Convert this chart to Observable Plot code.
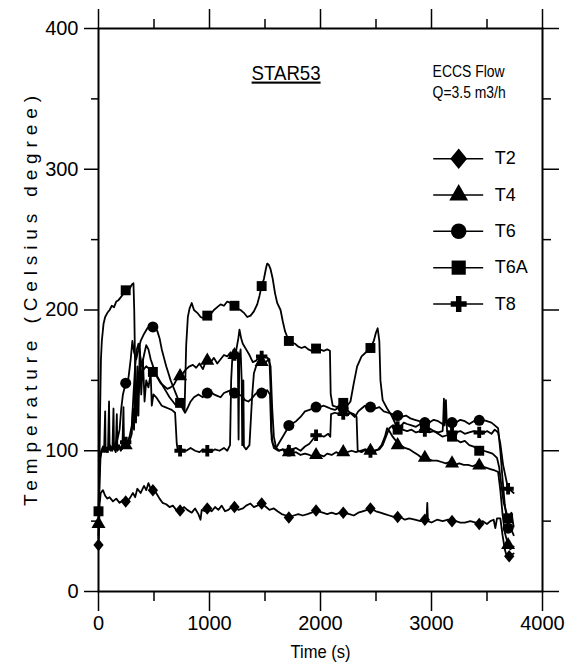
<!DOCTYPE html>
<html>
<head>
<meta charset="utf-8">
<script src="https://cdn.jsdelivr.net/npm/d3@7"></script>
<script src="https://cdn.jsdelivr.net/npm/@observablehq/plot@0.6"></script>
<style>
  body { margin: 0; background: #fff; }
  #chart svg { display: block; }
  .underlined text { text-decoration: underline; }
</style>
</head>
<body>
<div id="chart"></div>
<script>
// STAR53 run: ECCS flow Q = 3.5 m3/h, thermocouple temperatures vs time
const seriesNames = ["T2", "T4", "T6", "T6A", "T8"];

const xTicksMajor = [0, 1000, 2000, 3000, 4000];
const xTicksMinor = [500, 1500, 2500, 3500];
const yTicksMajor = [0, 100, 200, 300, 400];
const yTicksMinor = [50, 150, 250, 350];

// [time (s), temperature (°C)]
const T2 = [[0,30],[5,45],[10,62],[20,70],[40,72],[60,68],[80,66],[100,67],[130,64],[160,66],[190,63],[220,65],[280,66],[310,70],[330,67],[350,73],[380,70],[410,75],[430,72],[450,77],[470,73],[520,70],[550,66],[577,63],[610,62],[640,60],[670,61],[700,58],[770,60],[800,58],[840,56],[870,59],[900,55],[919,51],[930,58],[960,57],[1020,57],[1050,60],[1080,58],[1110,61],[1140,57],[1170,58],[1200,60],[1260,58],[1300,59],[1330,61],[1369,62.5],[1400,60],[1430,61],[1510,60],[1540,58],[1580,59],[1613,57],[1650,55],[1690,54],[1760,54],[1800,55],[1840,54],[1883,55],[1920,56],[2020,56],[2060,55],[2100,56],[2140,55],[2180,56],[2260,55],[2300,54],[2340,56],[2380,57],[2420,58],[2500,57],[2540,56],[2580,55],[2620,54],[2660,53],[2720,53],[2760,51],[2800,52],[2850,51],[2900,50],[2955,51],[2962,63],[2968,50],[3000,49],[3050,51],[3100,50],[3150,51],[3220,50],[3260,49],[3300,49],[3350,50],[3400,49],[3460,50],[3500,48],[3530,50],[3560,51],[3575,45],[3590,52],[3620,52],[3640,40],[3660,30],[3675,26],[3740,27]];
const T4 = [[0,48],[8,80],[15,95],[30,100],[50,101],[70,99],[90,102],[110,100],[130,101],[150,103],[170,100],[190,102],[210,101],[230,104],[260,106],[280,110],[300,118],[315,140],[330,160],[345,172],[360,176],[375,168],[390,160],[410,168],[430,175],[450,172],[470,165],[500,158],[530,152],[560,148],[590,146],[620,144],[650,145],[680,147],[700,150],[720,152],[760,155],[790,158],[820,160],[850,161],[880,159],[910,162],[940,158],[960,162],[1010,163],[1040,166],[1070,162],[1100,165],[1130,168],[1160,167],[1190,170],[1210,167],[1240,171],[1260,180],[1270,186],[1285,180],[1300,176],[1330,172],[1360,168],[1390,163],[1420,164],[1440,166],[1500,162],[1530,165],[1550,160],[1565,130],[1580,110],[1600,102],[1630,100],[1660,101],[1690,99],[1740,98],[1780,99],[1820,97],[1860,98],[1900,97],[1930,96],[1990,97],[2030,96],[2060,98],[2100,97],[2140,99],[2170,98],[2240,99],[2280,100],[2320,99],[2360,100],[2400,101],[2430,100],[2480,100],[2520,101],[2550,104],[2580,110],[2600,116],[2620,114],[2650,110],[2680,107],[2720,104],[2760,102],[2800,101],[2840,99],[2880,97],[2910,95],[2970,94],[3010,93],[3050,93],[3090,92],[3130,91],[3160,92],[3210,90],[3250,91],[3290,90],[3330,90],[3370,89],[3400,90],[3450,89],[3490,88],[3530,87],[3570,86],[3600,85],[3620,72],[3640,55],[3660,42],[3710,30],[3740,32]];
const T6 = [[0,40],[10,80],[20,98],[40,100],[60,103],[80,101],[100,104],[120,102],[150,105],[170,108],[190,115],[205,130],[220,140],[260,146],[275,155],[290,165],[305,178],[320,170],[340,165],[360,172],[380,178],[410,183],[440,187],[470,189],[510,187],[530,185],[550,180],[570,172],[590,166],[610,160],[630,155],[650,150],[670,146],[700,140],[720,136],[760,130],[780,127],[800,130],[830,135],[860,138],[900,140],[940,138],[960,140],[1010,142],[1040,140],[1070,139],[1100,138],[1130,141],[1160,142],[1190,143],[1260,140],[1290,139],[1320,136],[1350,135],[1380,137],[1410,140],[1440,142],[1500,142],[1520,143],[1545,140],[1555,115],[1570,105],[1600,102],[1630,106],[1660,110],[1690,114],[1740,119],[1780,121],[1820,124],[1860,128],[1900,129],[1930,130],[1990,131],[2030,132],[2060,131],[2090,130],[2130,129],[2170,131],[2240,129],[2280,126],[2310,124],[2340,128],[2370,130],[2400,132],[2430,131],[2490,130],[2530,131],[2570,128],[2610,127],[2650,126],[2730,124],[2770,125],[2810,123],[2850,122],[2890,121],[2980,120],[3020,122],[3060,121],[3100,119],[3140,121],[3220,120],[3260,122],[3300,121],[3340,119],[3380,121],[3410,120],[3460,122],[3500,121],[3540,120],[3570,118],[3600,116],[3620,100],[3640,80],[3660,62],[3720,44],[3740,40]];
const T6A = [[0,57],[8,90],[15,130],[22,165],[30,178],[45,190],[60,195],[80,198],[100,200],[120,203],[140,202],[160,206],[180,207],[200,209],[220,211],[260,213],[280,215],[300,218],[315,219],[322,200],[330,160],[345,125],[360,140],[380,150],[400,157],[430,160],[460,158],[520,154],[550,150],[580,146],[610,142],[640,138],[670,135],[700,132],[720,133],[760,130],[775,128],[790,175],[805,195],[820,201],[840,205],[860,200],[890,198],[920,195],[950,194],[1010,197],[1040,200],[1070,202],[1100,204],[1130,203],[1160,206],[1190,205],[1250,201],[1280,200],[1310,198],[1340,195],[1370,196],[1400,199],[1430,204],[1450,210],[1490,222],[1510,230],[1520,233],[1535,232],[1550,229],[1570,222],[1590,212],[1610,205],[1640,200],[1660,192],[1680,185],[1700,181],[1740,177],[1770,176],[1800,174],[1830,173],[1860,174],[1890,172],[1920,171],[1990,172],[2030,171],[2060,172],[2085,171],[2092,140],[2110,132],[2150,131],[2180,133],[2240,132],[2270,135],[2300,148],[2330,160],[2370,167],[2410,170],[2440,172],[2480,178],[2500,184],[2515,187],[2530,178],[2540,150],[2560,136],[2600,130],[2640,125],[2670,120],[2720,117],[2750,120],[2780,119],[2820,118],[2860,117],[2900,119],[2980,116],[3020,114],[3060,112],[3100,110],[3140,111],[3220,108],[3260,106],[3300,107],[3340,104],[3380,103],[3470,100],[3510,99],[3550,98],[3590,95],[3610,88],[3630,75],[3650,63],[3720,56],[3740,46]];
const T8 = [[0,38],[8,85],[15,96],[25,100],[40,103],[50,99],[60,128],[64,100],[75,102],[85,99],[95,135],[100,101],[110,103],[125,100],[135,130],[140,102],[155,99],[165,126],[170,101],[185,104],[200,100],[215,102],[225,131],[230,103],[260,106],[270,103],[285,108],[300,112],[310,130],[320,115],[330,150],[338,120],[350,160],[360,125],[372,175],[385,140],[400,165],[415,135],[430,150],[450,145],[470,155],[480,132],[495,140],[520,138],[545,135],[570,132],[600,131],[630,130],[660,129],[690,127],[705,105],[715,100],[750,101],[790,100],[830,102],[870,100],[910,99],[940,101],[1010,99],[1050,101],[1090,100],[1130,102],[1160,100],[1185,104],[1195,150],[1205,165],[1240,168],[1255,170],[1262,108],[1268,165],[1280,172],[1290,150],[1295,104],[1305,150],[1310,103],[1330,101],[1360,104],[1385,140],[1400,155],[1420,160],[1450,165],[1500,167],[1520,166],[1540,165],[1552,140],[1560,108],[1580,102],[1620,100],[1660,101],[1700,100],[1740,101],[1780,102],[1820,100],[1860,103],[1900,105],[1930,108],[1990,111],[2030,110],[2070,112],[2088,110],[2095,126],[2130,127],[2170,126],[2240,125],[2270,127],[2300,126],[2325,124],[2335,100],[2370,99],[2410,101],[2430,99],[2490,100],[2530,101],[2560,104],[2590,110],[2620,116],[2650,118],[2700,117],[2740,115],[2780,114],[2820,115],[2860,113],[2900,114],[2980,113],[3020,114],[3060,113],[3100,114],[3105,120],[3112,137],[3118,118],[3130,136],[3140,114],[3220,113],[3260,114],[3300,112],[3340,113],[3380,114],[3460,112],[3500,114],[3540,112],[3570,115],[3600,113],[3620,105],[3645,90],[3710,72],[3740,70]];

// plotted symbol positions along each trace
const T2marks = [[0,33],[245,64],[490,72],[735,57.5],[980,59],[1225,60],[1470,62.5],[1715,52.6],[1960,57.5],[2205,56],[2450,59],[2695,53],[2940,51],[3185,50],[3430,48],[3700,25]];
const T4marks = [[0,48],[245,104],[735,153],[980,164],[1225,168],[1470,163],[1715,99],[1960,97],[2205,99],[2450,100],[2695,104],[2940,95],[3185,91],[3430,89.5],[3690,33]];
const T6marks = [[245,148],[490,188],[980,141],[1225,141],[1470,141],[1715,118],[1960,131],[2205,130],[2450,131],[2695,125],[2940,120],[3185,120],[3430,121.6],[3690,45]];
const T6Amarks = [[0,57],[245,214],[490,156],[735,134],[980,196],[1225,203],[1470,217],[1715,178],[1960,172.6],[2205,134],[2450,173],[2695,115],[2940,118],[3185,110],[3430,100],[3690,52]];
const T8marks = [[245,106],[735,100],[980,100],[1225,168],[1470,167],[1715,100],[1960,111],[2205,126],[2450,99],[2695,117],[2940,114],[3185,113],[3430,113],[3690,73]];

const traces = {T2, T4, T6, T6A, T8};
const marks = {T2: T2marks, T4: T4marks, T6: T6marks, T6A: T6Amarks, T8: T8marks};

// filled diamond, a little wider than d3's default one
const diamond = {
  draw(context, size) {
    const r = Math.sqrt(size / Math.PI);
    const w = 0.92 * r, h = 1.12 * r;
    context.moveTo(0, -h);
    context.lineTo(w, 0);
    context.lineTo(0, h);
    context.lineTo(-w, 0);
    context.closePath();
  }
};
// plus sign with thick arms
const plus = {
  draw(context, size) {
    const r = Math.sqrt(size / Math.PI);
    const a = 1.05 * r, t = 0.36 * r;
    context.moveTo(-t, -a); context.lineTo(t, -a); context.lineTo(t, -t);
    context.lineTo(a, -t); context.lineTo(a, t); context.lineTo(t, t);
    context.lineTo(t, a); context.lineTo(-t, a); context.lineTo(-t, t);
    context.lineTo(-a, t); context.lineTo(-a, -t); context.lineTo(-t, -t);
    context.closePath();
  }
};
const symbols = {T2: diamond, T4: "triangle", T6: "circle", T6A: "square", T8: plus};
const plotR = {T2: 5.6, T4: 5.2, T6: 5.5, T6A: 5.6, T8: 5.4};
const legendR = {T2: 9.2, T4: 7, T6: 7.8, T6A: 8, T8: 7.6};

const toRows = (name, pts) => pts.map(([t, v]) => ({name, t, v}));
const lineRows = seriesNames.flatMap(name =>
  toRows(name, traces[name].concat(marks[name])).sort((a, b) => a.t - b.t));

const font = "'Liberation Sans', Arial, sans-serif";

// legend rows, placed in data units inside the frame
const legendRows = seriesNames.map((name, i) => ({name, y: 307.5 - i * 25.8}));

const plotMarks = [
  Plot.frame({strokeWidth: 2}),
  // bottom axis
  Plot.axisX({ticks: xTicksMajor, tickSize: 20, tickPadding: 4, fontSize: 20, tickFormat: d => String(d), label: null, strokeWidth: 1.5}),
  Plot.axisX({ticks: xTicksMinor, tickSize: 10, tickFormat: () => "", label: null, strokeWidth: 1.5}),
  // top axis
  Plot.axisX({anchor: "top", ticks: xTicksMajor, tickSize: 20, tickFormat: () => "", label: null, strokeWidth: 1.5}),
  Plot.axisX({anchor: "top", ticks: xTicksMinor, tickSize: 10, tickFormat: () => "", label: null, strokeWidth: 1.5}),
  // left axis
  Plot.axisY({ticks: yTicksMajor, tickSize: 14, tickPadding: 6, fontSize: 20, tickFormat: d => String(d), label: null, strokeWidth: 1.5}),
  Plot.axisY({ticks: yTicksMinor, tickSize: 7, tickFormat: () => "", label: null, strokeWidth: 1.5}),
  // right axis
  Plot.axisY({anchor: "right", ticks: yTicksMajor, tickSize: 16, tickFormat: () => "", label: null, strokeWidth: 1.5}),
  Plot.axisY({anchor: "right", ticks: yTicksMinor, tickSize: 8, tickFormat: () => "", label: null, strokeWidth: 1.5}),
  // traces
  Plot.line(lineRows, {x: "t", y: "v", z: "name", stroke: "black", strokeWidth: 1.8, curve: "linear"}),
  ...seriesNames.map(name => Plot.dot(toRows(name, marks[name]), {
    x: "t", y: "v", symbol: symbols[name], r: plotR[name], fill: "black", stroke: "none"
  })),
  // annotations
  Plot.text(["STAR53"], {x: 1690, y: 368.5, fontSize: 21, className: "underlined fit-69"}),
  Plot.text(["ECCS Flow"], {x: 3010, y: 369.5, textAnchor: "start", fontSize: 16, className: "fit-72"}),
  Plot.text(["Q=3.5 m3/h"], {x: 3010, y: 354.5, textAnchor: "start", fontSize: 16, className: "fit-73"}),
  // legend
  Plot.ruleY(legendRows, {y: "y", x1: 3020, x2: 3470, strokeWidth: 1.5}),
  ...legendRows.map(row => Plot.dot([row], {
    x: 3245, y: "y", symbol: symbols[row.name], r: legendR[row.name], fill: "black", stroke: "none"
  })),
  Plot.text(legendRows, {x: 3570, y: "y", text: "name", textAnchor: "start", fontSize: 18}),
  // axis titles
  Plot.text(["Temperature (Celsius degree)"], {frameAnchor: "left", dx: -68, dy: 196, rotate: -90, textAnchor: "start", fontSize: 19, className: "spread-410"}),
  Plot.text(["Time (s)"], {frameAnchor: "bottom", dy: 66, fontSize: 19, className: "fit-60"})
];

const chart = Plot.plot({
  width: 574,
  height: 667,
  marginLeft: 98,
  marginRight: 32,
  marginTop: 28,
  marginBottom: 76,
  x: {domain: [0, 4000], axis: null},
  y: {domain: [0, 400], axis: null},
  style: {fontFamily: font, color: "black", background: "white", overflow: "visible"},
  marks: plotMarks
});
document.getElementById("chart").appendChild(chart);

// set text widths: narrow lettering for the annotations, wide spacing for the y title
d3.select(chart).selectAll("g[class*='fit-'] text").each(function () {
  const cls = this.parentNode.getAttribute("class");
  const w = +cls.match(/fit-(\d+)/)[1];
  d3.select(this).attr("textLength", w).attr("lengthAdjust", "spacingAndGlyphs");
});
d3.select(chart).selectAll("g[class*='spread-'] text").each(function () {
  const cls = this.parentNode.getAttribute("class");
  const w = +cls.match(/spread-(\d+)/)[1];
  d3.select(this).attr("textLength", w).attr("lengthAdjust", "spacing");
});
</script>
</body>
</html>
